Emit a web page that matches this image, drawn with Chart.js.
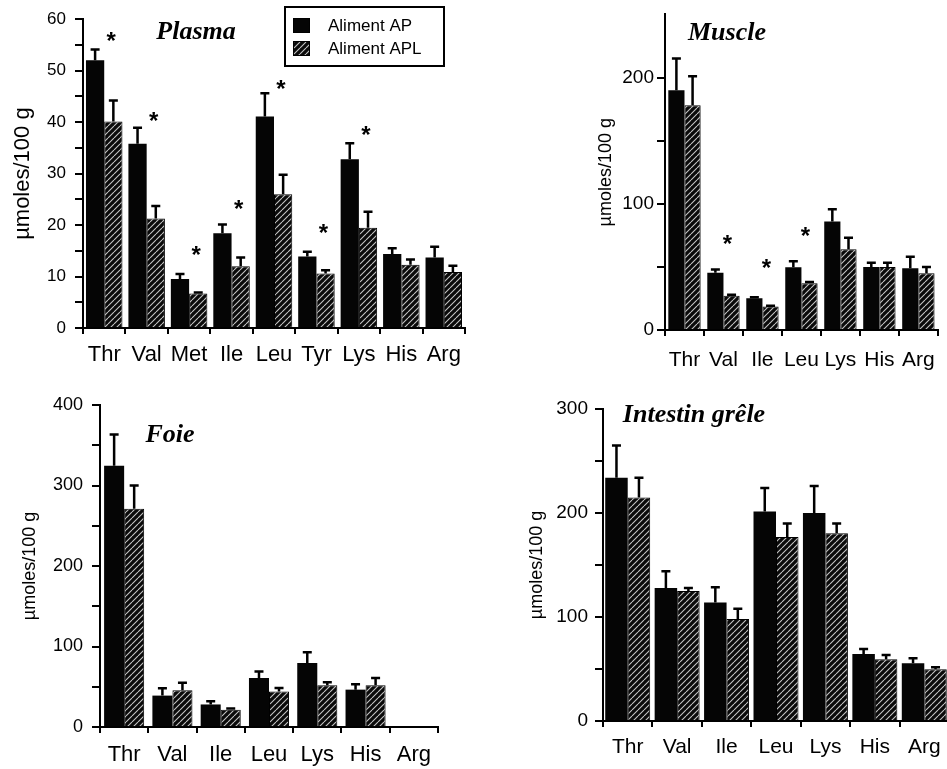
<!DOCTYPE html>
<html>
<head>
<meta charset="utf-8">
<script src="https://cdn.jsdelivr.net/npm/chart.js@4"></script>
<style>
  html, body { margin: 0; padding: 0; background: #fff; overflow: hidden; width: 947px; height: 769px; }
  canvas { position: absolute; }
</style>
</head>
<body>
<canvas id="plasma" width="475" height="380" style="left:0;top:0"></canvas>
<canvas id="muscle" width="472" height="380" style="left:475px;top:0"></canvas>
<canvas id="foie" width="470" height="389" style="left:0;top:380px"></canvas>
<canvas id="intestin" width="480" height="389" style="left:470px;top:380px"></canvas>
<script>
// ---- data (µmoles/100 g) ----
const plasmaLabels = ["Thr", "Val", "Met", "Ile", "Leu", "Tyr", "Lys", "His", "Arg"];
const plasmaAP     = [52.0, 35.8, 9.5, 18.4, 41.1, 13.9, 32.8, 14.4, 13.7];
const plasmaAPse   = [2.1, 3.1, 1.0, 1.7, 4.5, 0.9, 3.1, 1.1, 2.1];
const plasmaAPL    = [40.1, 21.3, 6.7, 12.0, 26.0, 10.6, 19.5, 12.3, 10.9];
const plasmaAPLse  = [4.1, 2.4, 0.2, 1.7, 3.8, 0.6, 3.1, 1.0, 1.2];
const plasmaStars  = [56, 40.4, 14.4, 23.3, 46.7, 18.6, 37.6, null, null];

const tissueLabels = ["Thr", "Val", "Ile", "Leu", "Lys", "His", "Arg"];

const muscleAP     = [190, 45.4, 25.2, 49.8, 86, 50, 49];
const muscleAPse   = [25, 2.6, 0.8, 4.7, 9.6, 3.3, 9];
const muscleAPL    = [178, 27.2, 18.7, 37, 64, 50, 45];
const muscleAPLse  = [23, 0.8, 0.5, 1, 9, 3.3, 5];
const muscleStars  = [null, 69.3, 49.8, 75.2, null, null, null];

const foieAP       = [324.5, 39, 28, 61, 79.6, 46.4, null];
const foieAPse     = [39, 9, 4, 8, 13.4, 6.6, null];
const foieAPL      = [271, 45.6, 21.5, 44, 52, 52, null];
const foieAPLse    = [29, 9.4, 1.5, 4.5, 3.5, 9, null];

const intestinAP    = [234, 128, 114, 201.5, 200, 64.5, 55.5];
const intestinAPse  = [31, 16, 14.6, 22.5, 26, 4.8, 4.8];
const intestinAPL   = [215, 125, 98, 177, 180.6, 59.4, 49.7];
const intestinAPLse = [19, 3, 10, 13, 9.4, 4.1, 1.9];

const SANS = "'Liberation Sans', Arial, Helvetica, sans-serif";
const SERIF = "'Liberation Serif', 'Times New Roman', serif";

function hatchPattern() {
  const s = 6;
  const c = document.createElement("canvas");
  c.width = s; c.height = s;
  const g = c.getContext("2d");
  g.fillStyle = "#0a0a0a";
  g.fillRect(0, 0, s, s);
  g.strokeStyle = "#c4c4c4";
  g.lineWidth = 1.1;
  g.beginPath();
  for (let k = -1; k <= 1; k++) { g.moveTo(k * s, s); g.lineTo(k * s + s, 0); }
  g.stroke();
  return g.createPattern(c, "repeat");
}
const HATCH = hatchPattern();
const BLACK = "#050505";

// error bars, asterisks, panel title and legend
const extras = {
  id: "extras",
  afterDatasetsDraw(chart, args, opts) {
    const ctx = chart.ctx;
    const y = chart.scales.y, x = chart.scales.x;
    ctx.save();
    ctx.strokeStyle = "#000";
    ctx.lineWidth = 2.5;
    chart.data.datasets.forEach((ds, i) => {
      const meta = chart.getDatasetMeta(i);
      meta.data.forEach((bar, j) => {
        const v = ds.data[j], e = ds.errorBars[j];
        if (v == null || e == null) return;
        const y0 = y.getPixelForValue(v), y1 = y.getPixelForValue(v + e);
        ctx.beginPath();
        ctx.moveTo(bar.x, y0); ctx.lineTo(bar.x, y1);
        ctx.moveTo(bar.x - 4.5, y1); ctx.lineTo(bar.x + 4.5, y1);
        ctx.stroke();
      });
    });
    if (opts.stars) {
      ctx.fillStyle = "#000";
      ctx.font = "bold 24px " + SANS;
      ctx.textAlign = "center";
      ctx.textBaseline = "alphabetic";
      // the asterisk glyph sits high in the em box: drop the baseline so the glyph is centred on the value
      opts.stars.forEach((v, j) => {
        if (v == null) return;
        ctx.fillText("*", x.getPixelForValue(j) + opts.starDx, y.getPixelForValue(v) + 9);
      });
    }
    ctx.restore();
  },
  afterDraw(chart, args, opts) {
    const ctx = chart.ctx;
    ctx.save();
    ctx.fillStyle = "#000";
    ctx.font = "italic bold 26px " + SERIF;
    ctx.textAlign = "center";
    ctx.textBaseline = "middle";
    ctx.fillText(opts.title.text, opts.title.x, opts.title.y);
    if (opts.legend) {
      const L = opts.legend;
      ctx.lineWidth = 2;
      ctx.strokeStyle = "#000";
      ctx.strokeRect(L.x, L.y, L.w, L.h);
      ctx.font = "17px " + SANS;
      ctx.textAlign = "left";
      chart.data.datasets.forEach((ds, i) => {
        const ry = L.y + 11 + i * 23;
        ctx.fillStyle = ds.backgroundColor;
        ctx.fillRect(L.x + 8, ry, 17, 15);
        ctx.strokeStyle = "#000"; ctx.lineWidth = 1;
        ctx.strokeRect(L.x + 8.5, ry + 0.5, 16, 14);
        ctx.fillStyle = "#000";
        ctx.fillText(ds.label, L.x + 43, ry + 8);
      });
    }
    ctx.restore();
  }
};

function makePanel(p) {
  new Chart(document.getElementById(p.id), {
    type: "bar",
    data: {
      labels: p.labels,
      datasets: [
        { label: "Aliment AP", data: p.ap, errorBars: p.apErr, backgroundColor: BLACK,
          borderWidth: 0, barPercentage: 1, categoryPercentage: p.catPct },
        { label: "Aliment APL", data: p.apl, errorBars: p.aplErr, backgroundColor: HATCH,
          borderColor: "#000", borderWidth: 1, barPercentage: 1, categoryPercentage: p.catPct }
      ]
    },
    options: {
      responsive: false,
      animation: false,
      layout: { padding: { left: p.padLeft, top: p.padTop, right: p.padRight, bottom: 0 } },
      plugins: {
        legend: { display: false },
        tooltip: { enabled: false },
        extras: { title: p.title, stars: p.stars, starDx: p.starDx || 0, legend: p.legend }
      },
      scales: {
        x: {
          offset: true,
          grid: { offset: true, drawOnChartArea: false, tickLength: 6, lineWidth: 2, color: "#000" },
          border: { display: true, color: "#000", width: 2 },
          ticks: { color: "#000", font: { family: SANS, size: p.xFont }, padding: p.xPad,
                   maxRotation: 0, autoSkip: false },
          afterFit: s => { s.height = p.xHeight; }
        },
        y: {
          min: 0, max: p.yMax,
          grid: { drawOnChartArea: false, tickLength: 8, lineWidth: 2, color: "#000",
                  tickColor: c => (p.hideTop && c.tick && c.tick.value === p.yMax) ? "rgba(0,0,0,0)" : "#000" },
          border: { display: true, color: "#000", width: 2 },
          ticks: { stepSize: p.yStep, color: "#000", font: { family: SANS, size: p.yFont }, padding: p.yPad,
                   callback: v => (v % p.yLabelStep === 0 ? v : "") },
          title: { display: true, text: "µmoles/100 g", color: "#000",
                   font: { family: SANS, size: p.titleFont }, padding: 0 },
          afterFit: s => { s.width = p.yWidth; }
        }
      }
    },
    plugins: [extras]
  });
}

makePanel({
  id: "plasma", labels: plasmaLabels,
  ap: plasmaAP, apErr: plasmaAPse, apl: plasmaAPL, aplErr: plasmaAPLse, stars: plasmaStars, starDx: 7,
  yMax: 60, yStep: 5, yLabelStep: 10,
  padLeft: 10, yWidth: 73, padTop: 12, padRight: 10, xHeight: 52,
  xFont: 22, xPad: 8, yFont: 17, yPad: 9, titleFont: 22, catPct: 0.86,
  title: { text: "Plasma", x: 196, y: 32 },
  legend: { x: 285, y: 7, w: 159, h: 59 }
});

makePanel({
  id: "muscle", labels: tissueLabels,
  ap: muscleAP, apErr: muscleAPse, apl: muscleAPL, aplErr: muscleAPLse, stars: muscleStars, starDx: 4,
  yMax: 250, yStep: 50, yLabelStep: 100, hideTop: true,
  padLeft: 120, yWidth: 70, padTop: 9, padRight: 4, xHeight: 50,
  xFont: 21, xPad: 12, yFont: 19, yPad: 3, titleFont: 18, catPct: 0.83,
  title: { text: "Muscle", x: 252, y: 33 }
});

makePanel({
  id: "foie", labels: tissueLabels,
  ap: foieAP, apErr: foieAPse, apl: foieAPL, aplErr: foieAPLse,
  yMax: 400, yStep: 50, yLabelStep: 100,
  padLeft: 19, yWidth: 81, padTop: 25, padRight: 32, xHeight: 42,
  xFont: 22, xPad: 9, yFont: 18, yPad: 9, titleFont: 18, catPct: 0.83,
  title: { text: "Foie", x: 170, y: 55 }
});

makePanel({
  id: "intestin", labels: tissueLabels,
  ap: intestinAP, apErr: intestinAPse, apl: intestinAPL, aplErr: intestinAPLse,
  yMax: 300, yStep: 50, yLabelStep: 100,
  padLeft: 56, yWidth: 77, padTop: 29, padRight: 1, xHeight: 48,
  xFont: 21, xPad: 8, yFont: 19, yPad: 7, titleFont: 18, catPct: 0.91,
  title: { text: "Intestin grêle", x: 224, y: 35 }
});
</script>
</body>
</html>
